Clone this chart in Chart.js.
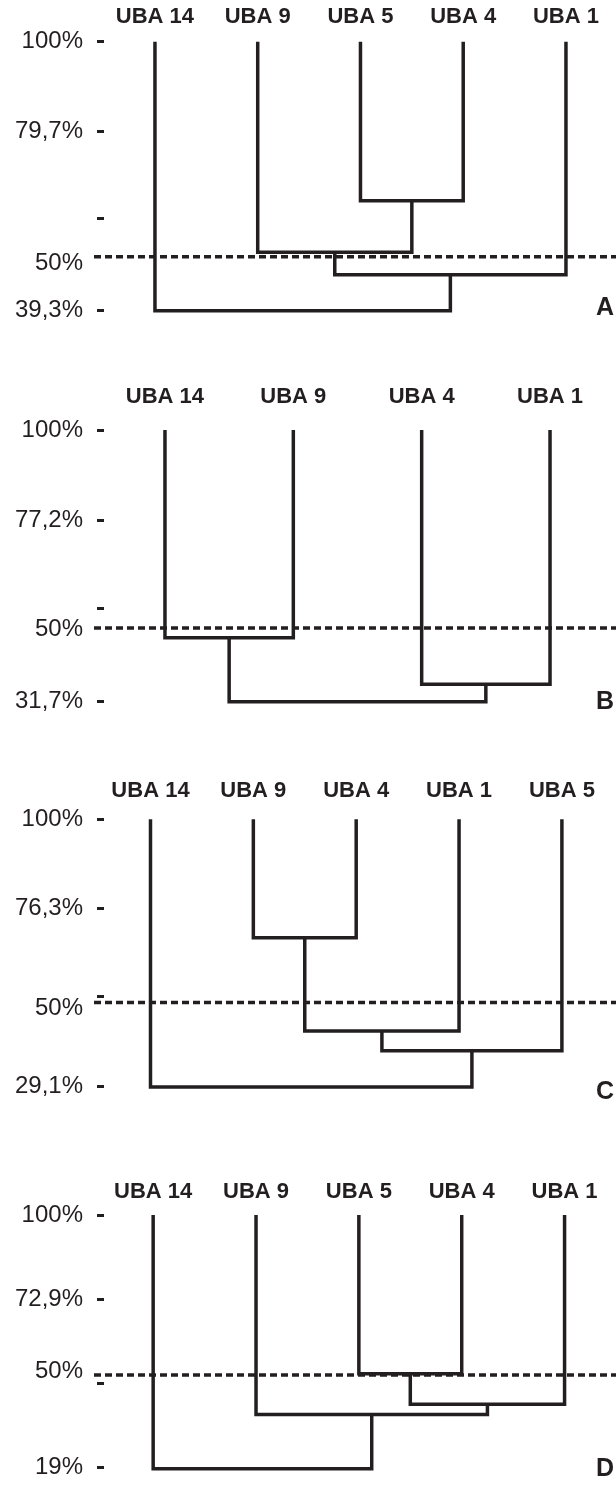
<!DOCTYPE html>
<html>
<head>
<meta charset="utf-8">
<script src="https://cdn.jsdelivr.net/npm/chart.js@4.4.1/dist/chart.umd.min.js"></script>
<style>
  html, body { margin: 0; padding: 0; background: #fff; }
  body { position: relative; width: 616px; height: 1496px; overflow: hidden; }
  canvas { position: absolute; left: 0; }
</style>
</head>
<body>
<canvas id="panelA" width="616" height="355" style="top:0px"></canvas>
<canvas id="panelB" width="616" height="395" style="top:355px"></canvas>
<canvas id="panelC" width="616" height="390" style="top:750px"></canvas>
<canvas id="panelD" width="616" height="356" style="top:1140px"></canvas>
<script>
// Dendrogram data (similarity in %)
// links: [left node, right node, merge height]; leaves are nodes 0..n-1, merges continue the count

const leavesA = ['UBA 14', 'UBA 9', 'UBA 5', 'UBA 4', 'UBA 1'];
const linksA = [[2, 3, 64.1], [1, 5, 52.5], [6, 4, 47.4], [0, 7, 39.3]];
const tickValuesA = [100, 79.7, 60, 50, 39.3];
const tickLabelsA = ['100%', '79,7%', '', '50%', '39,3%'];
const tickMarksA = [1, 1, 1, 0, 1];
const cutoffA = 51.5;

const leavesB = ['UBA 14', 'UBA 9', 'UBA 4', 'UBA 1'];
const linksB = [[0, 1, 47.8], [2, 3, 36.1], [4, 5, 31.7]];
const tickValuesB = [100, 77.2, 55.2, 50, 31.7];
const tickLabelsB = ['100%', '77,2%', '', '50%', '31,7%'];
const tickMarksB = [1, 1, 1, 0, 1];
const cutoffB = 50.2;

const leavesC = ['UBA 14', 'UBA 9', 'UBA 4', 'UBA 1', 'UBA 5'];
const linksC = [[1, 2, 68.6], [5, 3, 43.9], [6, 4, 38.6], [0, 7, 29.0]];
const tickValuesC = [100, 76.3, 52.9, 50, 29.1];
const tickLabelsC = ['100%', '76,3%', '', '50%', '29,1%'];
const tickMarksC = [1, 1, 1, 0, 1];
const cutoffC = 51.4;

const leavesD = ['UBA 14', 'UBA 9', 'UBA 5', 'UBA 4', 'UBA 1'];
const linksD = [[2, 3, 49.1], [5, 4, 39.3], [1, 6, 36.0], [0, 7, 18.6]];
const tickValuesD = [100, 72.9, 50, 45.9, 19];
const tickLabelsD = ['100%', '72,9%', '50%', '', '19%'];
const tickMarksD = [1, 1, 0, 1, 1];
const cutoffD = 48.7;

const INK = '#231f20';
const FONT = "'Liberation Sans', Arial, Helvetica, sans-serif";

// draws the dashed 50% cut line across the panel
const cutoffPlugin = {
    id: 'cutoff',
    beforeDatasetsDraw(chart, args, opts) {
        const y = chart.scales.y.getPixelForValue(opts.value);
        const ctx = chart.ctx;
        ctx.save();
        ctx.strokeStyle = INK;
        ctx.lineWidth = 3.5;
        ctx.setLineDash([7, 4]);
        ctx.beginPath();
        ctx.moveTo(chart.chartArea.left - 10, y);
        ctx.lineTo(chart.width, y);
        ctx.stroke();
        ctx.restore();
    }
};

// panel letter in the lower right corner
const letterPlugin = {
    id: 'panelLetter',
    afterDraw(chart, args, opts) {
        const ctx = chart.ctx;
        ctx.save();
        ctx.fillStyle = INK;
        ctx.font = 'bold 25px ' + FONT;
        ctx.textAlign = 'right';
        ctx.textBaseline = 'middle';
        ctx.fillText(opts.text, chart.width - 2, chart.chartArea.bottom + (opts.dy || 0));
        ctx.restore();
    }
};

// turn the linkage list into U-shaped line segments
function buildLinks(leaves, links) {
    const xs = leaves.map((_, i) => i);
    const hs = leaves.map(() => 100);
    const datasets = [];
    links.forEach(([a, b, h]) => {
        datasets.push({
            data: [
                { x: xs[a], y: hs[a] },
                { x: xs[a], y: h },
                { x: xs[b], y: h },
                { x: xs[b], y: hs[b] }
            ],
            borderColor: INK,
            borderWidth: 3.5,
            borderJoinStyle: 'miter',
            borderCapStyle: 'butt',
            pointRadius: 0,
            tension: 0,
            fill: false,
            clip: 8
        });
        xs.push((xs[a] + xs[b]) / 2);
        hs.push(h);
    });
    return datasets;
}

function makePanel(id, p) {
    const ctx = document.getElementById(id).getContext('2d');
    return new Chart(ctx, {
        type: 'line',
        data: { datasets: buildLinks(p.leaves, p.links) },
        plugins: [cutoffPlugin, letterPlugin],
        options: {
            responsive: false,
            animation: false,
            devicePixelRatio: 1,
            layout: { padding: { top: 0, left: 0, right: 0, bottom: p.padBottom } },
            plugins: {
                legend: { display: false },
                tooltip: { enabled: false },
                cutoff: { value: p.cutoff },
                panelLetter: { text: p.letter, dy: p.letterDy }
            },
            scales: {
                x: {
                    type: 'linear',
                    position: 'top',
                    min: p.xMin,
                    max: p.xMax,
                    grid: { display: false },
                    border: { display: false },
                    afterBuildTicks: scale => {
                        scale.ticks = p.leaves.map((_, i) => ({ value: i }));
                    },
                    afterFit: scale => { scale.height = p.chartTop; },
                    ticks: {
                        autoSkip: false,
                        maxRotation: 0,
                        padding: p.labelPad,
                        color: INK,
                        font: { family: FONT, size: 22, weight: 'bold' },
                        callback: value => p.leaves[value]
                    }
                },
                y: {
                    type: 'linear',
                    min: p.tickValues[p.tickValues.length - 1],
                    max: 100,
                    bounds: 'data',
                    border: { display: false },
                    grid: {
                        drawOnChartArea: false,
                        drawTicks: true,
                        tickLength: 7,
                        tickWidth: 3,
                        tickColor: c => p.tickMarks[c.index] ? INK : 'rgba(0,0,0,0)'
                    },
                    afterBuildTicks: scale => {
                        scale.ticks = p.tickValues.map(v => ({ value: v }));
                    },
                    afterFit: scale => { scale.width = 104; },
                    ticks: {
                        autoSkip: false,
                        padding: 14,
                        color: INK,
                        font: { family: FONT, size: 24 },
                        callback: (value, index) => p.tickLabels[index]
                    }
                }
            }
        }
    });
}

makePanel('panelA', {
    leaves: leavesA, links: linksA, tickValues: tickValuesA, tickLabels: tickLabelsA,
    tickMarks: tickMarksA, cutoff: cutoffA, letter: 'A', letterDy: -3,
    xMin: -0.496, xMax: 4.487, chartTop: 41.7, labelPad: 3.4, padBottom: 44.3
});
makePanel('panelB', {
    leaves: leavesB, links: linksB, tickValues: tickValuesB, tickLabels: tickLabelsB,
    tickMarks: tickMarksB, cutoff: cutoffB, letter: 'B', letterDy: 0,
    xMin: -0.475, xMax: 3.514, chartTop: 75, labelPad: 11.4, padBottom: 48.3
});
makePanel('panelC', {
    leaves: leavesC, links: linksC, tickValues: tickValuesC, tickLabels: tickLabelsC,
    tickMarks: tickMarksC, cutoff: cutoffC, letter: 'C', letterDy: 5,
    xMin: -0.452, xMax: 4.526, chartTop: 69.3, labelPad: 7.1, padBottom: 53.3
});
makePanel('panelD', {
    leaves: leavesD, links: linksD, tickValues: tickValuesD, tickLabels: tickLabelsD,
    tickMarks: tickMarksD, cutoff: cutoffD, letter: 'D', letterDy: 2,
    xMin: -0.478, xMax: 4.5, chartTop: 75, labelPad: 1.8, padBottom: 14.3
});
</script>
</body>
</html>
